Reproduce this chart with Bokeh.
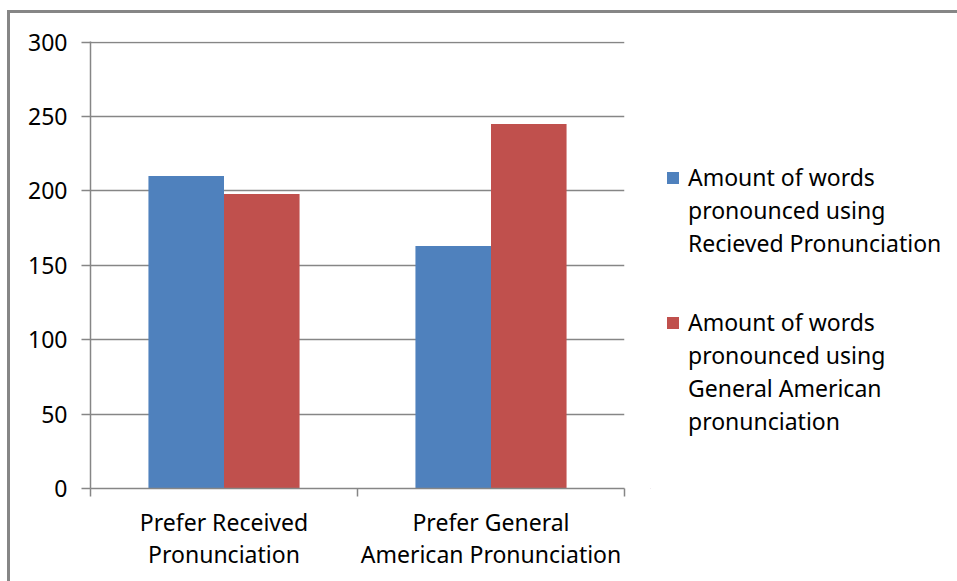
from bokeh.plotting import figure
from bokeh.layouts import row
from bokeh.models import (ColumnDataSource, Range1d, FixedTicker,
                          Legend, LegendItem)
from bokeh.transform import dodge
from bokeh.embed import file_html
from bokeh.resources import INLINE

# --- data -------------------------------------------------------------
categories = ["Prefer Received\nPronunciation",
              "Prefer General\nAmerican Pronunciation"]
series_labels = ["Amount of words\npronounced using\nRecieved Pronunciation",
                 "Amount of words\npronounced using\nGeneral American\npronunciation"]
rp_words = [210, 163]   # words pronounced using Received Pronunciation
ga_words = [198, 245]   # words pronounced using General American
y_ticks = [0, 50, 100, 150, 200, 250, 300]

# --- styling ----------------------------------------------------------
FONT = "Noto Sans"
FSIZE = "23px"
BLUE = "#4F81BD"
RED = "#C0504D"
GREY = "#868686"
BAR_W = 0.283
H = 571

centers = [i + 0.5 for i in range(len(categories))]
source = ColumnDataSource(dict(x=centers, rp=rp_words, ga=ga_words))

# ---- bar chart ---------------------------------------------------------
p = figure(width=640, height=H, output_backend="svg", toolbar_location=None,
           x_range=Range1d(0, len(categories)), y_range=Range1d(0, 300.5),
           min_border_left=80, min_border_right=26,
           min_border_top=28, min_border_bottom=H - 475)
p.outline_line_color = None
p.background_fill_color = "white"
p.border_fill_color = "white"

p.vbar(x=dodge("x", -BAR_W / 2, range=p.x_range), top="rp", width=BAR_W,
       source=source, fill_color=BLUE, line_color=None)
p.vbar(x=dodge("x", BAR_W / 2, range=p.x_range), top="ga", width=BAR_W,
       source=source, fill_color=RED, line_color=None)

yax = p.yaxis[0]
yax.ticker = FixedTicker(ticks=y_ticks, minor_ticks=[])
yax.axis_line_color = GREY
yax.axis_line_width = 1.5
yax.major_tick_line_color = GREY
yax.major_tick_line_width = 1.5
yax.major_tick_out = 9
yax.major_tick_in = 0
yax.minor_tick_line_color = None
yax.major_label_text_font = FONT
yax.major_label_text_font_size = FSIZE
yax.major_label_text_color = "black"
yax.major_label_standoff = 14

# x axis: labels centred on categories, tick marks at category boundaries
xax = p.xaxis[0]
xax.ticker = FixedTicker(ticks=centers,
                         minor_ticks=list(range(len(categories) + 1)))
xax.major_label_overrides = {c: lab for c, lab in zip(centers, categories)}
xax.axis_line_color = GREY
xax.axis_line_width = 1.5
xax.major_tick_line_color = None
xax.major_tick_out = 0
xax.major_tick_in = 0
xax.minor_tick_line_color = GREY
xax.minor_tick_line_width = 1.5
xax.minor_tick_out = 8
xax.minor_tick_in = 0
xax.major_label_text_font = FONT
xax.major_label_text_font_size = FSIZE
xax.major_label_text_color = "black"
xax.major_label_text_line_height = 1.0
xax.major_label_standoff = 9

p.xgrid.grid_line_color = None
p.ygrid.ticker = FixedTicker(ticks=y_ticks)
p.ygrid.grid_line_color = GREY
p.ygrid.grid_line_width = 1.5

# ---- legend panel ------------------------------------------------------
lg = figure(width=310, height=H, output_backend="svg", toolbar_location=None,
            x_range=Range1d(0, 1), y_range=Range1d(0, 1),
            x_axis_type=None, y_axis_type=None,
            min_border=0)
lg.outline_line_color = None
lg.background_fill_color = "white"
lg.border_fill_color = "white"

# swatches carrying the series colours (their bars lie outside the view)
sw_rp = lg.vbar(x=[-5], bottom=[-3], top=[-2], width=0.5,
                fill_color=BLUE, line_color=None)
sw_ga = lg.vbar(x=[-5], bottom=[-3], top=[-2], width=0.5,
                fill_color=RED, line_color=None)


def series_legend(label, swatch, loc):
    lines = label.split("\n")
    items = [LegendItem(label=lines[0], renderers=[swatch])]
    items += [LegendItem(label=ln, renderers=[]) for ln in lines[1:]]
    leg = Legend(items=items, location=loc)
    leg.border_line_color = None
    leg.background_fill_alpha = 0
    leg.glyph_width = 15
    leg.glyph_height = 15
    leg.label_standoff = 8
    leg.spacing = 1
    leg.padding = 0
    leg.margin = 0
    leg.label_text_font = FONT
    leg.label_text_font_size = FSIZE
    leg.label_text_color = "black"
    return leg


lg.add_layout(series_legend(series_labels[0], sw_rp, (15, 229)), "center")
lg.add_layout(series_legend(series_labels[1], sw_ga, (15, 51)), "center")

layout = row(p, lg)
layout.styles = {"position": "absolute", "left": "7px", "top": "10px",
                 "overflow": "hidden",
                 "border-left": f"3px solid {GREY}",
                 "border-top": f"3px solid {GREY}"}

open("out.html", "w").write(file_html(layout, INLINE))
